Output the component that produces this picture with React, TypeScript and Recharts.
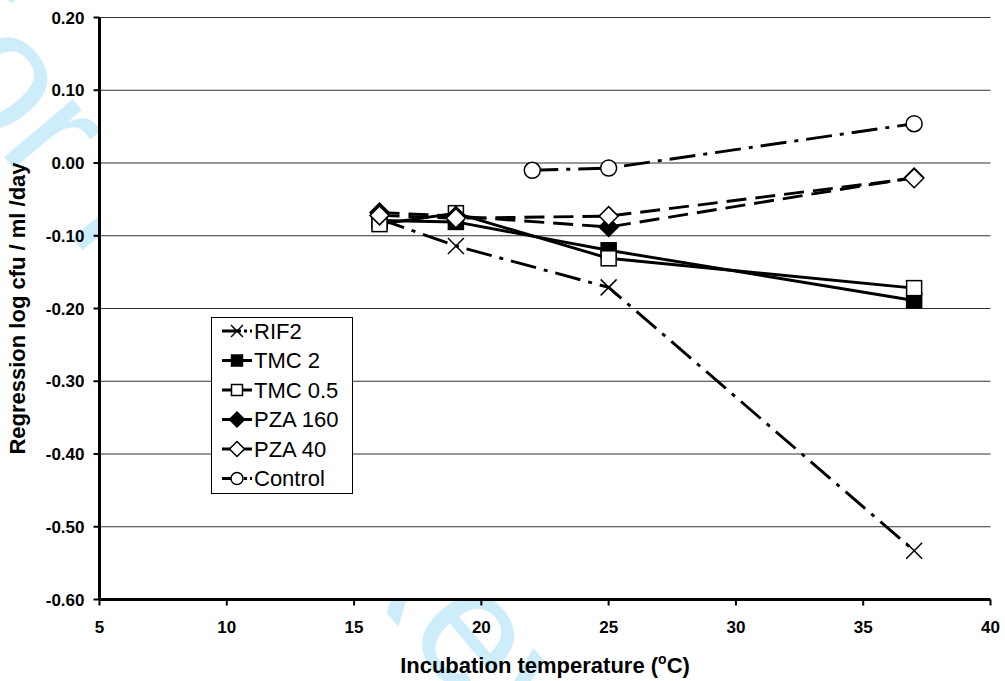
import React from 'react';
import { LineChart, Line, XAxis, YAxis, CartesianGrid } from 'recharts';

// ---- data ----
const rif2Temps = [16, 19, 25, 37];
const rif2Values = [-0.077, -0.114, -0.171, -0.533];
const tmc2Temps = [16, 19, 25, 37];
const tmc2Values = [-0.079, -0.081, -0.12, -0.189];
const tmc05Temps = [16, 19, 25, 37];
const tmc05Values = [-0.084, -0.069, -0.131, -0.172];
const pza160Temps = [16, 19, 25, 37];
const pza160Values = [-0.068, -0.073, -0.088, -0.02];
const pza40Temps = [16, 19, 25, 37];
const pza40Values = [-0.072, -0.076, -0.073, -0.021];
const controlTemps = [22, 25, 37];
const controlValues = [-0.01, -0.007, 0.054];

const seriesNames = ['RIF2', 'TMC 2', 'TMC 0.5', 'PZA 160', 'PZA 40', 'Control'];
const xTicks = [5, 10, 15, 20, 25, 30, 35, 40];
const yTicks = [-0.6, -0.5, -0.4, -0.3, -0.2, -0.1, 0, 0.1, 0.2];
const xAxisTitle = 'Incubation temperature (';
const yAxisTitle = 'Regression log cfu / ml /day';
const watermarkText = 'For Peer Review';

const zip = (xs: number[], ys: number[]) => xs.map((x, i) => ({ x, y: ys[i] }));

type Shape = 'x' | 'squareFilled' | 'squareOpen' | 'diamondFilled' | 'diamondOpen' | 'circleOpen';

const series: {
  name: string;
  data: { x: number; y: number }[];
  shape: Shape;
  dash?: string;
  legendDash?: string;
}[] = [
  { name: seriesNames[0], data: zip(rif2Temps, rif2Values), shape: 'x', dash: '26 8 4 8', legendDash: '19 3 3 3 2 10' },
  { name: seriesNames[1], data: zip(tmc2Temps, tmc2Values), shape: 'squareFilled' },
  { name: seriesNames[2], data: zip(tmc05Temps, tmc05Values), shape: 'squareOpen' },
  { name: seriesNames[3], data: zip(pza160Temps, pza160Values), shape: 'diamondFilled', dash: '20 9' },
  { name: seriesNames[4], data: zip(pza40Temps, pza40Values), shape: 'diamondOpen', dash: '20 9' },
  { name: seriesNames[5], data: zip(controlTemps, controlValues), shape: 'circleOpen', dash: '26 8 4 8', legendDash: '19 3 3 3 2 10' },
];

const FONT = '"Liberation Sans", Arial, Helvetica, sans-serif';

function Marker({ shape, cx, cy, s }: { shape: Shape; cx: number; cy: number; s: number }) {
  const sw = 1.5;
  switch (shape) {
    case 'x':
      return (
        <g>
          <line x1={cx - s} y1={cy - s} x2={cx + s} y2={cy + s} stroke="#000" strokeWidth={sw} />
          <line x1={cx - s} y1={cy + s} x2={cx + s} y2={cy - s} stroke="#000" strokeWidth={sw} />
        </g>
      );
    case 'squareFilled':
    case 'squareOpen':
      return (
        <rect
          x={cx - s + 0.5}
          y={cy - s + 0.5}
          width={2 * s - 1}
          height={2 * s - 1}
          fill={shape === 'squareFilled' ? '#000' : '#fff'}
          stroke="#000"
          strokeWidth={sw}
        />
      );
    case 'diamondFilled':
    case 'diamondOpen': {
      const d = s + 1.5;
      return (
        <polygon
          points={`${cx},${cy - d} ${cx + d},${cy} ${cx},${cy + d} ${cx - d},${cy}`}
          fill={shape === 'diamondFilled' ? '#000' : '#fff'}
          stroke="#000"
          strokeWidth={sw}
        />
      );
    }
    case 'circleOpen':
      return <circle cx={cx} cy={cy} r={s} fill="#fff" stroke="#000" strokeWidth={sw} />;
  }
  return null;
}

const XTitle = (props: any) => {
  const vb = props.viewBox || { x: 99.5, y: 599.5, width: 891, height: 81.5 };
  const cx = vb.x + vb.width / 2;
  return (
    <text x={cx} y={vb.y + 73.5} textAnchor="middle" fontFamily={FONT} fontWeight="bold" fontSize={22} fill="#000">
      {xAxisTitle}
      <tspan fontSize={14} dy={-9}>o</tspan>
      <tspan dy={9}>C)</tspan>
    </text>
  );
};

const YTitle = (props: any) => {
  const vb = props.viewBox || { x: 0, y: 17.5, width: 99.5, height: 582 };
  const cy = vb.y + vb.height / 2;
  const x = 25;
  return (
    <text
      x={x}
      y={cy}
      transform={`rotate(-90 ${x} ${cy})`}
      textAnchor="middle"
      fontFamily={FONT}
      fontWeight="bold"
      fontSize={22}
      fill="#000"
    >
      {yAxisTitle}
    </text>
  );
};

function LegendBox() {
  const left = 211;
  const top = 317;
  const w = 141;
  const h = 176;
  const row0 = 331;
  const step = 29.5;
  const lx1 = 222;
  const lx2 = 252;
  const mx = 237;
  return (
    <svg width={1005} height={681} style={{ position: 'absolute', left: 0, top: 0, pointerEvents: 'none' }}>
      <rect x={left + 0.5} y={top + 0.5} width={w} height={h} fill="#fff" stroke="#000" strokeWidth={1} />
      {series.map((s, i) => {
        const y = row0 + i * step;
        return (
          <g key={s.name}>
            <line x1={lx1} y1={y} x2={lx2} y2={y} stroke="#000" strokeWidth={3} strokeDasharray={s.legendDash} />
            <Marker shape={s.shape} cx={mx} cy={y} s={6} />
            <text x={254} y={y} dy="0.36em" fontFamily={FONT} fontSize={22} fill="#000">
              {s.name}
            </text>
          </g>
        );
      })}
    </svg>
  );
}

export default function App() {
  return (
    <div style={{ position: 'absolute', left: 0, top: 0, width: 1005, height: 681, background: '#fff' }}>
      <svg width={1005} height={681} style={{ position: 'absolute', left: 0, top: 0 }}>
        <text
          x={-131}
          y={-4}
          transform="rotate(50 -131 -4)"
          fontFamily={FONT}
          fontSize={170}
          fill="#cdedfb"
        >
          {watermarkText}
        </text>
      </svg>
      <div style={{ position: 'absolute', left: 0, top: 0 }}>
        <LineChart width={1005} height={681} margin={{ top: 17.5, right: 14.5, bottom: 0, left: 0 }}>
          <CartesianGrid vertical={false} stroke="#333" strokeWidth={1} fill="#fff" fillOpacity={1} />
          <XAxis
            dataKey="x"
            type="number"
            domain={[5, 40]}
            ticks={xTicks}
            interval={0}
            height={81.5}
            allowDuplicatedCategory={false}
            axisLine={{ stroke: '#000', strokeWidth: 3 }}
            tickLine={{ stroke: '#000', strokeWidth: 2 }}
            tickSize={6}
            tickMargin={15}
            tick={{ fill: '#000', fontFamily: FONT, fontWeight: 'bold', fontSize: 17 }}
            label={{ content: XTitle }}
          />
          <YAxis
            dataKey="y"
            type="number"
            domain={[-0.6, 0.2]}
            ticks={yTicks}
            interval={0}
            width={99.5}
            allowDataOverflow
            axisLine={{ stroke: '#000', strokeWidth: 3 }}
            tickLine={{ stroke: '#000', strokeWidth: 2 }}
            tickSize={6}
            tickMargin={9}
            tickFormatter={(v: number) => v.toFixed(2)}
            tick={{ fill: '#000', fontFamily: FONT, fontWeight: 'bold', fontSize: 17 }}
            label={{ content: YTitle }}
          />
          {series.map((s) => (
            <Line
              key={s.name}
              name={s.name}
              data={s.data}
              dataKey="y"
              type="linear"
              stroke="#000"
              strokeWidth={2.9}
              strokeDasharray={s.dash}
              isAnimationActive={false}
              activeDot={false}
              dot={(p: any) =>
                p.cx == null || p.cy == null ? (
                  <g key={`${s.name}-${p.index}`} />
                ) : (
                  <g key={`${s.name}-${p.index}`}>
                    <Marker shape={s.shape} cx={p.cx} cy={p.cy} s={8} />
                  </g>
                )
              }
            />
          ))}
        </LineChart>
      </div>
      <LegendBox />
    </div>
  );
}
